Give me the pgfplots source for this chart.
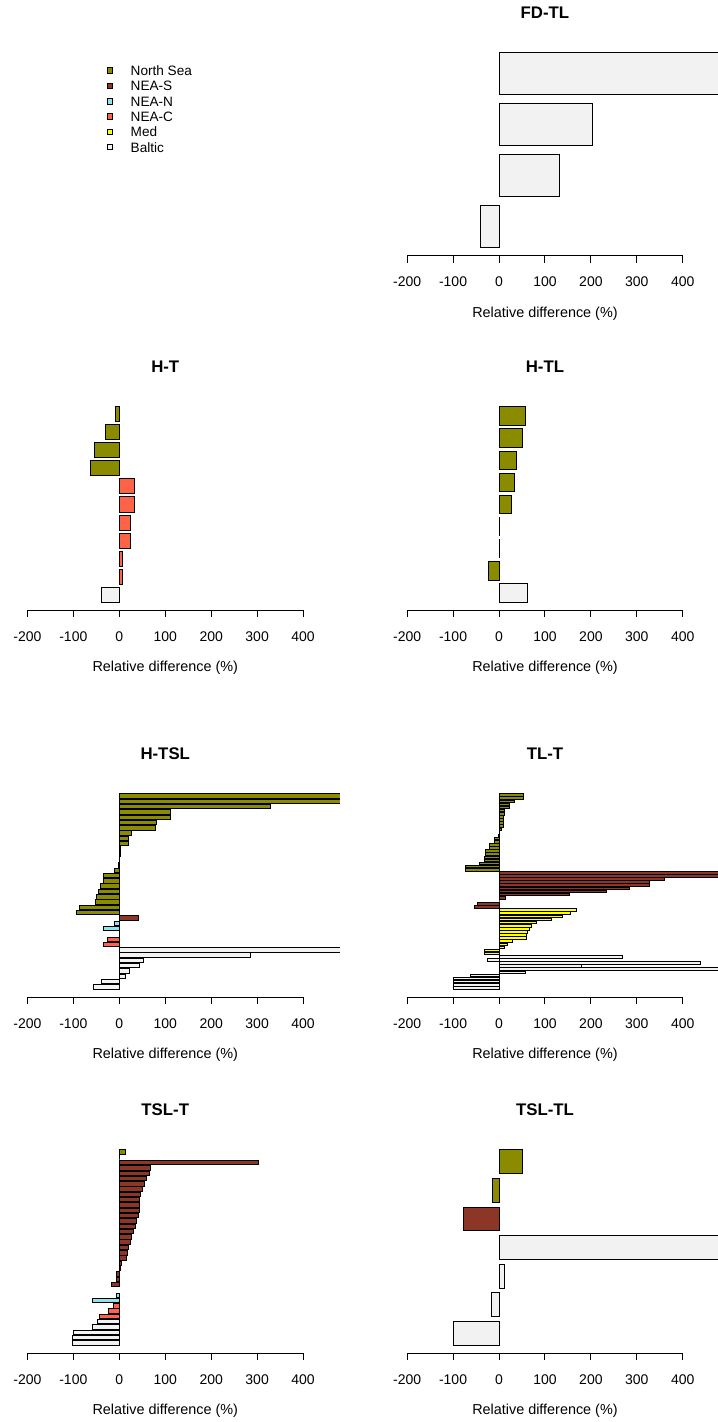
\documentclass[border=0pt]{standalone}
\usepackage{pgfplots}
\pgfplotsset{compat=1.18}
\usepackage{fontspec}
\setmainfont{Liberation Sans}
\definecolor{nsea}{HTML}{8B8B00}
\definecolor{neas}{HTML}{8B3626}
\definecolor{nean}{HTML}{8EE5EE}
\definecolor{neac}{HTML}{FF6347}
\definecolor{med}{HTML}{FFFF00}
\definecolor{baltic}{HTML}{F2F2F2}
\pgfplotsset{
 panel/.style={
  scale only axis, width=156.23pt, height=105.5pt,
  xmin=-200, xmax=480,
  axis x line*=bottom, axis y line=none,
  x axis line style={-, line width=0.5pt, shorten >=18.38pt},
  xtick={-200,-100,0,100,200,300,400},
  xticklabels={{-200},{-100},0,100,200,300,400},
  tick align=outside, major tick length=3.5pt,
  xtick style={black, line width=0.5pt},
  ytick=\empty,
  xticklabel style={font=\fontsize{7}{8}\selectfont, anchor=center, inner sep=0pt, yshift=-9.7pt},
  xlabel={Relative difference (\%)},
  xlabel style={at={(axis description cs:0.4412,0)}, anchor=center, yshift=-29pt, font=\fontsize{7.2}{8}\selectfont},
  title style={at={(axis description cs:0.4412,1)}, anchor=center, yshift=10pt, font=\bfseries\fontsize{8.4}{10}\selectfont},
  xbar, bar width=0.8333, bar shift=0pt,
  every axis plot/.append style={draw=black, line width=0.5pt},
 },
}
\begin{document}
\begin{tikzpicture}
\useasboundingbox (0,0) rectangle (358.5pt,-711pt);
% legend
\begin{axis}[hide axis, scale only axis, width=20pt, height=20pt, xmin=0, xmax=1, ymin=0, ymax=1,
 at={(53.35pt,-32.85pt)}, anchor=north west,
 legend style={at={(0,1)}, anchor=north west, draw=none, fill=none, inner sep=0pt, outer sep=0pt,
   row sep=2.64pt, font=\fontsize{6.8}{8}\selectfont, nodes={inner sep=0pt, text height=5pt, text depth=0pt},
   /tikz/every odd column/.append style={column sep=8.7pt}},
 legend cell align=left,
 legend image code/.code={\draw[#1, draw=black, line width=0.5pt] (0pt,-1.4pt) rectangle (2.8pt,1.4pt);}]
\addlegendimage{fill=nsea}\addlegendentry{North Sea}
\addlegendimage{fill=neas}\addlegendentry{NEA-S}
\addlegendimage{fill=nean}\addlegendentry{NEA-N}
\addlegendimage{fill=neac}\addlegendentry{NEA-C}
\addlegendimage{fill=med}\addlegendentry{Med}
\addlegendimage{fill=baltic}\addlegendentry{Baltic}
\end{axis}
% FD-TL
\begin{axis}[panel, at={(203.55pt,-127.85pt)}, anchor=south west, title={FD-TL}, ymin=0.43, ymax=4.57]
\addplot[fill=baltic] coordinates {(-39.2,1) (131.3,2) (203,3) (600,4)};
\end{axis}
% H-T
\begin{axis}[panel, at={(13.7pt,-305pt)}, anchor=south west, title={H-T}, ymin=0.15, ymax=11.85]
\addplot[fill=baltic] coordinates {(-39.1,1)};
\addplot[fill=neac] coordinates {(5.9,2) (5.9,3) (24.7,4) (24.7,5) (32.7,6) (32.7,7)};
\addplot[fill=nsea] coordinates {(-61.6,8) (-55,9) (-30.4,10) (-7.2,11)};
\end{axis}
% H-TL
\begin{axis}[panel, at={(203.55pt,-305pt)}, anchor=south west, title={H-TL}, ymin=0.23, ymax=9.77]
\addplot[fill=baltic] coordinates {(61.7,1)};
\addplot[fill=nsea] coordinates {(-23.2,2) (0.8,3) (0.8,4) (26.8,5) (33.4,6) (37,7) (50.8,8) (58,9)};
\end{axis}
% H-TSL
\begin{axis}[panel, at={(13.7pt,-498.5pt)}, anchor=south west, title={H-TSL}, ymin=-0.89, ymax=38.89]
\addplot[fill=baltic] coordinates {(-56.5,1) (-39,2) (13.8,3) (21.8,4) (45,5) (53.7,6) (284.5,7) (600,8)};
\addplot[fill=neac] coordinates {(-34.8,9) (-25.4,10) (1.5,11)};
\addplot[fill=nean] coordinates {(-33.3,12) (-11.5,13)};
\addplot[fill=neas] coordinates {(42,14)};
\addplot[fill=nsea] coordinates {(-92.9,15) (-87,16) (-51.5,17) (-48.6,18) (-45.7,19) (-40.6,20) (-34.8,21) (-34.8,22) (-11.5,23) (-2.2,24) (1.5,25) (2.9,26) (3.7,27) (19.7,28) (21.1,29) (25.5,30) (78.4,31) (80.6,32) (111,33) (111,34) (329.5,35) (600,36) (600,37)};
\end{axis}
% TL-T
\begin{axis}[panel, at={(203.55pt,-498.5pt)}, anchor=south west, title={TL-T}, ymin=-1.93, ymax=65.93]
\addplot[fill=baltic] coordinates {(-100,1) (-100,2) (-100,3) (-98,4) (-62.5,5) (58,6) (600,7) (178.5,8) (439,9) (-25.5,10) (267.7,11)};
\addplot[fill=med] coordinates {(-32,12) (-32,13) (11.6,14) (18,15) (29,16) (59,17) (59,18) (62,19) (66,20) (70,21) (81,22) (114,23) (138,24) (155,25) (169,26)};
\addplot[fill=neas] coordinates {(-53.7,27) (-47,28) (0,29) (13.8,30) (154,31) (234,32) (283,33) (328.6,34) (328.6,35) (360,36) (600,37) (600,38)};
\addplot[fill=nsea] coordinates {(-72,39) (-72,40) (-43.5,41) (-32,42) (-32,43) (-29,44) (-29,45) (-21,46) (-19.6,47) (-10,48) (-10,49) (-0.5,50) (0.5,51) (5,52) (9.4,53) (9.4,54) (9.4,55) (9.4,56) (11,57) (11.6,58) (22.5,59) (22.5,60) (33,61) (54,62) (54,63)};
\end{axis}
% TSL-T
\begin{axis}[panel, at={(13.7pt,-676.5pt)}, anchor=south west, title={TSL-T}, ymin=-0.89, ymax=38.89]
\addplot[fill=baltic] coordinates {(-100.8,1) (-100.8,2) (-98.7,3) (-58,4) (-47.9,5)};
\addplot[fill=neac] coordinates {(-42.8,6) (-23.2,7) (-13,8)};
\addplot[fill=nean] coordinates {(-58,9) (-5.8,10)};
\addplot[fill=neas] coordinates {(-16.7,12) (-5.8,13) (-5.8,14) (2.2,15) (4.4,16) (16,17) (18.9,18) (21,19) (24.7,20) (26.8,21) (30.5,22) (34.8,23) (38.4,24) (42,25) (44.3,26) (44.3,27) (44.3,28) (46.4,29) (50,30) (55.9,31) (60.2,32) (66,33) (67.5,34) (302.5,35)};
\addplot[fill=nsea] coordinates {(0,36) (13.8,37)};
\end{axis}
% TSL-TL
\begin{axis}[panel, at={(203.55pt,-676.5pt)}, anchor=south west, title={TSL-TL}, ymin=0.31, ymax=7.69]
\addplot[fill=baltic] coordinates {(-98.7,1) (-16,2) (11.6,3) (600,4)};
\addplot[fill=neas] coordinates {(-77.6,5)};
\addplot[fill=nsea] coordinates {(-13.8,6) (51.5,7)};
\end{axis}
\end{tikzpicture}
\end{document}
